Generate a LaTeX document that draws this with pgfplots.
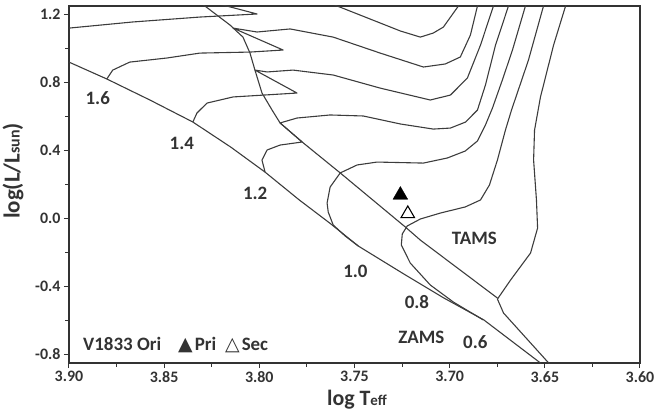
\documentclass[border=0pt]{standalone}
\usepackage{fontspec}
\setmainfont{Carlito}
\newfontfamily\symfont{DejaVu Sans}
\usepackage{pgfplots}
\pgfplotsset{compat=1.18}
\definecolor{ink}{HTML}{333333}
\definecolor{trk}{HTML}{3C3C3C}
\newcommand\labfont{\fontsize{19}{19}\selectfont\bfseries}

\begin{document}
\begin{tikzpicture}
\path[use as bounding box] (-69bp,-55bp) rectangle (586bp,363bp);
\begin{axis}[
  at={(0,0)}, anchor=south west,
  scale only axis, width=571bp, height=357bp,
  x dir=reverse,
  xmin=3.6, xmax=3.9, ymin=-0.851, ymax=1.249,
  xtick={3.6,3.65,3.7,3.75,3.8,3.85,3.9},
  minor xtick={3.625,3.675,3.725,3.775,3.825,3.875},
  ytick={-0.8,-0.4,0,0.4,0.8,1.2},
  minor ytick={-0.6,-0.2,0.2,0.6,1.0},
  tick pos=left, tick align=outside,
  major tick length=5bp, minor tick length=3.5bp,
  tick style={draw=ink, line width=1pt},
  axis line style={draw=ink, line width=1.4pt},
  /pgf/number format/assume math mode=true,
  tick label style={font=\fontsize{16}{16}\selectfont\bfseries, text=ink},
  x tick label style={/pgf/number format/.cd, fixed, fixed zerofill, precision=2},
  y tick label style={/pgf/number format/.cd, fixed, fixed zerofill, precision=1},
  trk/.style={draw=trk, line width=1.1pt, line join=round, no marks},
  clip=true,
]
% zero-age main sequence
\addplot[trk] coordinates {
 (3.905,0.941) (3.900,0.919) (3.880,0.819) (3.8575,0.696) (3.835,0.567)
 (3.815,0.419) (3.797,0.272) (3.779,0.108) (3.763,-0.028) (3.748,-0.163)
 (3.724,-0.328) (3.703,-0.469) (3.682,-0.598) (3.653,-0.845) (3.651,-0.87)};
% terminal-age main sequence
\addplot[trk] coordinates {
 (3.835,1.30) (3.8286,1.249) (3.8154,1.137) (3.8086,1.066) (3.8049,0.972)
 (3.8023,0.872) (3.7986,0.737) (3.7933,0.637) (3.7891,0.561) (3.7775,0.449)
 (3.7575,0.267) (3.7233,-0.051) (3.7154,-0.128) (3.6749,-0.469)};
% 0.6 Msun
\addplot[trk] coordinates {
 (3.6470,-0.87) (3.6475,-0.857) (3.6717,-0.557) (3.6749,-0.475) (3.6680,-0.363)
 (3.6575,-0.204) (3.6538,-0.057) (3.6544,0.108) (3.6559,0.343) (3.6554,0.519)
 (3.6523,0.713) (3.6454,1.019) (3.6391,1.249) (3.637,1.30)};
% 0.8 Msun
\addplot[trk] coordinates {
 (3.6823,-0.598) (3.6981,-0.492) (3.7102,-0.392) (3.7207,-0.263) (3.7254,-0.157)
 (3.7249,-0.092) (3.7223,-0.045) (3.7154,-0.004) (3.7049,0.031) (3.6918,0.067)
 (3.6838,0.108) (3.6791,0.196) (3.6749,0.343) (3.6707,0.519) (3.6675,0.637)
 (3.6586,0.931) (3.6507,1.249) (3.649,1.30)};
% 1.0 Msun
\addplot[trk] coordinates {
 (3.748,-0.163) (3.7549,-0.104) (3.7612,-0.039) (3.7638,0.037) (3.7644,0.090)
 (3.7628,0.184) (3.7575,0.267) (3.7486,0.314) (3.7381,0.331) (3.7138,0.325)
 (3.7012,0.355) (3.6918,0.396) (3.6854,0.455) (3.6812,0.549) (3.6775,0.649)
 (3.6723,0.814) (3.6670,0.990) (3.6602,1.249) (3.658,1.30)};
% 1.2 Msun
\addplot[trk] coordinates {
 (3.797,0.272) (3.7986,0.343) (3.7959,0.402) (3.7891,0.431) (3.7775,0.449)
 (3.7891,0.561) (3.7802,0.590) (3.7628,0.608) (3.7454,0.602) (3.7259,0.555)
 (3.7086,0.525) (3.6996,0.531) (3.6917,0.566) (3.6854,0.637) (3.6812,0.784)
 (3.6759,1.019) (3.6691,1.249) (3.667,1.30)};
% 1.4 Msun
\addplot[trk] coordinates {
 (3.8349,0.567) (3.8328,0.619) (3.8275,0.678) (3.8138,0.714) (3.7802,0.737)
 (3.8023,0.872) (3.7959,0.861) (3.7823,0.872) (3.7612,0.843) (3.7365,0.766)
 (3.7102,0.696) (3.6996,0.725) (3.6907,0.825) (3.6838,1.019) (3.6770,1.249)
 (3.675,1.30)};
% 1.6 Msun
\addplot[trk] coordinates {
 (3.8802,0.819) (3.8770,0.872) (3.8681,0.919) (3.8486,0.943) (3.8312,0.972)
 (3.8049,0.978) (3.7875,0.990) (3.8138,1.119) (3.8012,1.096) (3.7838,1.114)
 (3.7612,1.066) (3.7365,0.972) (3.7138,0.890) (3.7023,0.908) (3.6944,0.949)
 (3.6891,1.078) (3.6854,1.249) (3.684,1.30)};
% 1.8 Msun
\addplot[trk] coordinates {
 (3.910,1.112) (3.900,1.119) (3.8665,1.155) (3.8312,1.184) (3.8012,1.202)
 (3.8233,1.267) (3.8102,1.402) (3.7733,1.314) (3.7591,1.249) (3.7365,1.149)
 (3.7259,1.102) (3.7154,1.066) (3.7086,1.090) (3.7033,1.125) (3.6954,1.249)
 (3.693,1.30)};
% V1833 Ori components
\addplot[only marks, mark=triangle*, mark size=8.5bp,
  mark options={fill=black, draw=black}] coordinates {(3.7259,0.137)};
\addplot[only marks, mark=triangle*, mark size=7.8bp,
  mark options={fill=white, draw=black, line width=1.1pt}] coordinates {(3.722,0.027)};

\begin{scope}[every node/.style={font=\labfont, text=ink}]
\node at (axis cs:3.8849,0.708) {1.6};
\node at (axis cs:3.8407,0.443) {1.4};
\node at (axis cs:3.8022,0.149) {1.2};
\node at (axis cs:3.7495,-0.314) {1.0};
\node at (axis cs:3.7172,-0.490) {0.8};
\node at (axis cs:3.6865,-0.727) {0.6};
\node at (axis cs:3.7149,-0.698) {ZAMS};
\node at (axis cs:3.687,-0.116) {TAMS};
\node[anchor=west] at (axis cs:3.8944,-0.745)
  {V1833 Ori\hspace{17bp}{\symfont ▲}\hspace{2bp}Pri\hspace{9bp}{\symfont △}\hspace{2bp}Sec};
\end{scope}
\end{axis}
\node[rotate=90, font=\fontsize{23}{23}\selectfont\bfseries, text=ink]
  at (-56bp,192bp) {log(L/L{\fontsize{16}{16}\selectfont sun})};
\node[font=\fontsize{22}{22}\selectfont\bfseries, text=ink]
  at (288bp,-37bp) {log T{\fontsize{15}{15}\selectfont eff}};
\end{tikzpicture}
\end{document}
